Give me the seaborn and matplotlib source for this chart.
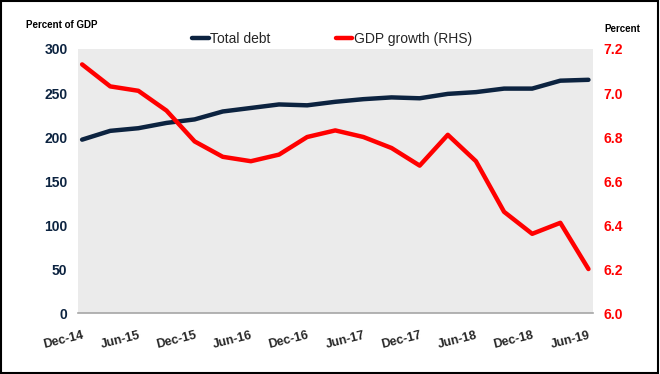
import matplotlib
matplotlib.use("Agg")
import matplotlib.pyplot as plt
import pandas as pd
import seaborn as sns
from matplotlib.lines import Line2D

# quarterly data, Dec-14 .. Jun-19
quarters = ["Dec-14", "Mar-15", "Jun-15", "Sep-15", "Dec-15", "Mar-16", "Jun-16",
            "Sep-16", "Dec-16", "Mar-17", "Jun-17", "Sep-17", "Dec-17", "Mar-18",
            "Jun-18", "Sep-18", "Dec-18", "Mar-19", "Jun-19"]
total_debt = [197, 207, 210, 216, 220, 229, 233, 237, 236, 240, 243, 245, 244,
              249, 251, 255, 255, 264, 265]
gdp_growth = [7.13, 7.03, 7.01, 6.92, 6.78, 6.71, 6.69, 6.72, 6.80, 6.83, 6.80,
              6.75, 6.67, 6.81, 6.69, 6.46, 6.36, 6.41, 6.20]

df = pd.DataFrame({"quarter": quarters, "debt": total_debt, "gdp": gdp_growth})
df["pos"] = range(len(df))

navy = "#0c2340"
red = "#ff0000"

sns.set_theme(style="white")
plt.rcParams["font.family"] = ["Liberation Sans", "DejaVu Sans"]

fig = plt.figure(figsize=(6.6, 3.74), dpi=100)
ax = fig.add_axes([0.118, 0.163, 0.780, 0.706])
ax.set_facecolor("#ebebeb")

sns.lineplot(data=df, x="pos", y="debt", ax=ax, color=navy, linewidth=3.2)
ax2 = ax.twinx()
sns.lineplot(data=df, x="pos", y="gdp", ax=ax2, color=red, linewidth=3.2)

ax.set_xlim(-0.15, len(df) - 0.85)
ax.set_ylim(0, 300)
ax2.set_ylim(6.0, 7.2)
ax.set_yticks(range(0, 301, 50))
ax2.set_yticks([6.0, 6.2, 6.4, 6.6, 6.8, 7.0, 7.2])
ax2.set_yticklabels(["6.0", "6.2", "6.4", "6.6", "6.8", "7.0", "7.2"])

ax.set_xticks(df["pos"][::2])
ax.set_xticklabels(df["quarter"][::2], rotation=14, ha="right",
                   rotation_mode="anchor", fontsize=9, fontweight="bold")

for lab in ax.get_yticklabels():
    lab.set_color(navy)
    lab.set_fontweight("bold")
    lab.set_fontsize(10)
for lab in ax2.get_yticklabels():
    lab.set_color(red)
    lab.set_fontweight("bold")
    lab.set_fontsize(10)

ax.tick_params(axis="x", length=0, pad=12)
ax.tick_params(axis="y", length=0, pad=7.5)
ax2.tick_params(axis="y", length=0, pad=8)

ax.set_xlabel("")
ax.set_ylabel("")
ax2.set_ylabel("")
for a in (ax, ax2):
    for s in ["top", "left", "right", "bottom"]:
        a.spines[s].set_visible(False)
ax.spines["bottom"].set_visible(True)
ax.spines["bottom"].set_color("#a6a6a6")
ax.spines["bottom"].set_linewidth(1.2)

fig.text(0.04, 0.925, "Percent of GDP", fontsize=7, fontweight="bold", color="black")
fig.text(0.916, 0.915, "Percent", fontsize=7, fontweight="bold", color="black")

handles = [Line2D([0], [0], color=navy, lw=3.2),
           Line2D([0], [0], color=red, lw=3.2)]
fig.legend(handles, ["Total debt", "GDP growth (RHS)"], loc="center",
           bbox_to_anchor=(0.503, 0.897), ncol=2, frameon=False, fontsize=10,
           handlelength=1.2, handletextpad=0.1, columnspacing=4.7)

# outer black border
fig.patches.append(plt.Rectangle((0.002, 0.003), 0.995, 0.994, transform=fig.transFigure,
                                 fill=False, edgecolor="black", linewidth=1.5))

fig.savefig("out.png", dpi=100)
